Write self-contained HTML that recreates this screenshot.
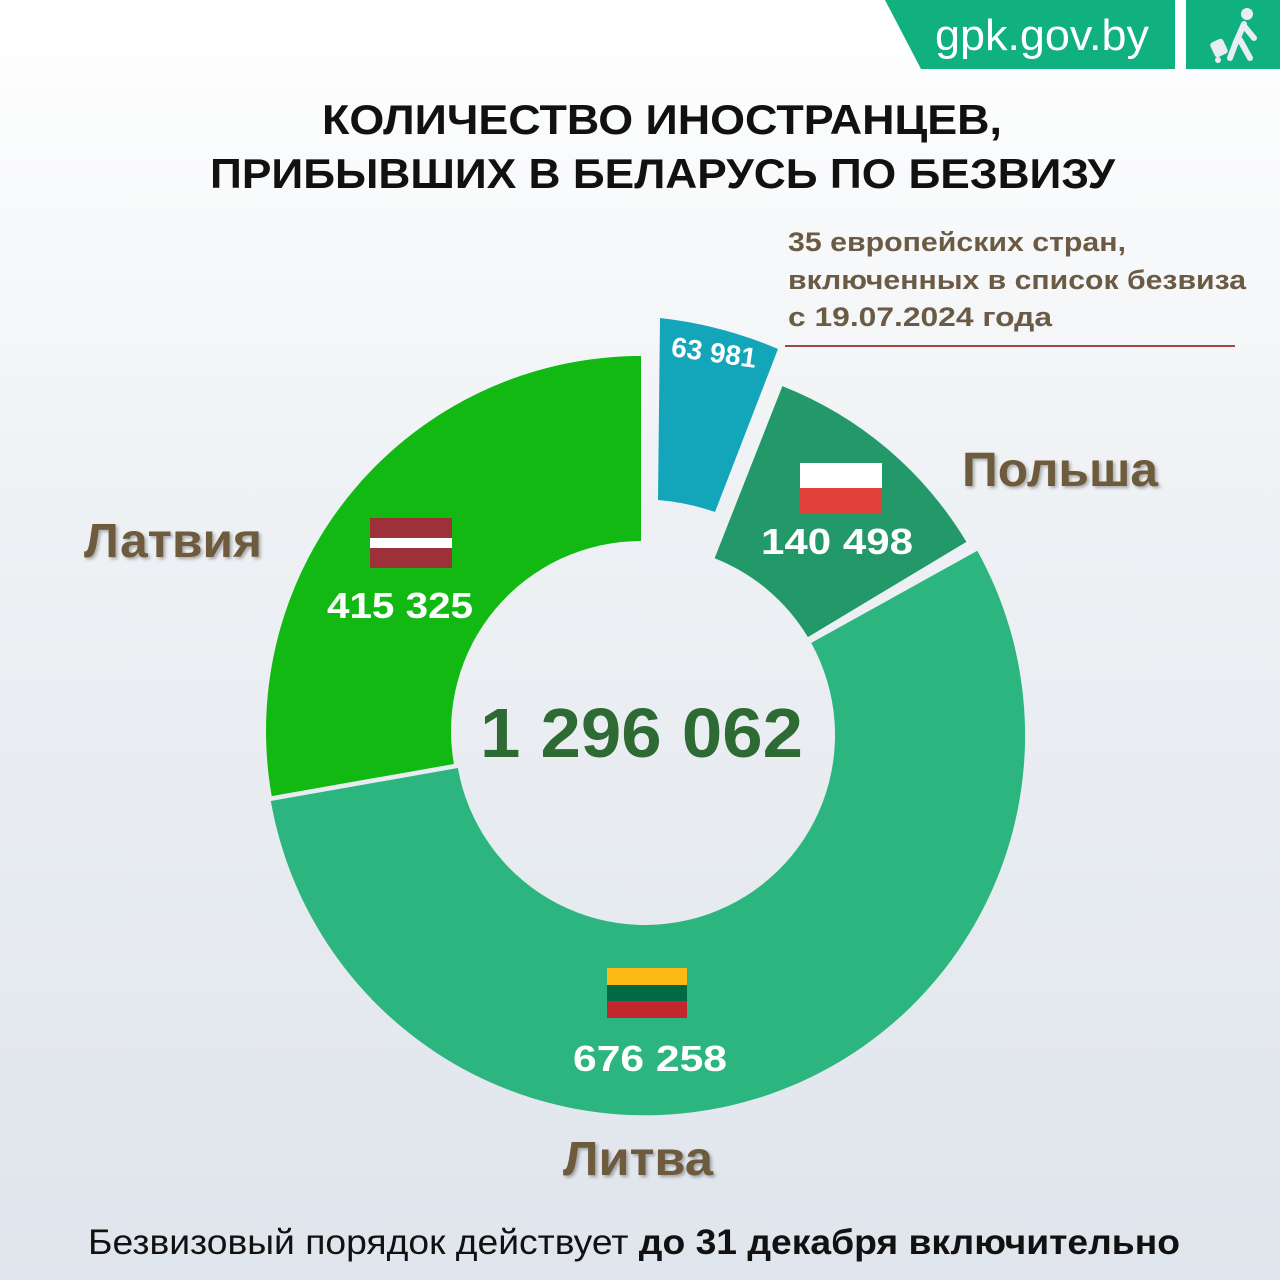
<!DOCTYPE html>
<html><head><meta charset="utf-8"><style>
body{margin:0;width:1280px;height:1280px;overflow:hidden;background:linear-gradient(#ffffff 0%,#eef1f4 40%,#dfe5ec 100%);font-family:"Liberation Sans","DejaVu Sans",sans-serif;}
svg{position:absolute;left:0;top:0}
</style></head><body>
<svg width="1280" height="1280" viewBox="0 0 1280 1280">
<defs><filter id="sh" x="-10%" y="-10%" width="120%" height="130%"><feDropShadow dx="2" dy="2" stdDeviation="1.5" flood-color="#000" flood-opacity="0.3"/></filter></defs>
<polygon points="885,0 1175,0 1175,69 921,69" fill="#10b07f"/>
<rect x="1186" y="0" width="94" height="69" fill="#10b07f"/>
<text x="935" y="50" font-size="44" fill="#fff" textLength="214" lengthAdjust="spacingAndGlyphs">gpk.gov.by</text>
<g fill="#e8eef3" stroke="#e8eef3" stroke-linecap="round">
<circle cx="1247" cy="14" r="6" stroke="none"/>
<path d="M1244,24 L1236,42 L1230,58 M1240,40 L1250,58 M1244,26 L1254,38" stroke-width="6" fill="none"/>
<rect x="1212" y="40" width="14" height="16" rx="3" stroke="none" transform="rotate(-25 1219 48)"/>
<circle cx="1218" cy="60" r="3" stroke="none"/>
</g>
<text x="322" y="134" font-size="42" font-weight="bold" fill="#111" textLength="680" lengthAdjust="spacingAndGlyphs">КОЛИЧЕСТВО ИНОСТРАНЦЕВ,</text>
<text x="210" y="188" font-size="42" font-weight="bold" fill="#111" textLength="905" lengthAdjust="spacingAndGlyphs">ПРИБЫВШИХ В БЕЛАРУСЬ ПО БЕЗВИЗУ</text>
<g font-size="27" font-weight="bold" fill="#6b5a44">
<text x="788" y="251" textLength="338" lengthAdjust="spacingAndGlyphs">35 европейских стран,</text>
<text x="788" y="289" textLength="458" lengthAdjust="spacingAndGlyphs">включенных в список безвиза</text>
<text x="788" y="326" textLength="264" lengthAdjust="spacingAndGlyphs">с 19.07.2024 года</text>
</g>
<line x1="785" y1="346" x2="1235" y2="346" stroke="#a04848" stroke-width="2"/>
<path d="M977.3,550.8 A380,380 0 1 1 270.8,801 L457.9,768 A190,190 0 1 0 811.2,642.9 Z" fill="#2db57f"/>
<path d="M641,356 L641,541 A190,190 0 0 0 453.9,764 L271.7,796.1 A375,375 0 0 1 641,356 Z" fill="#12b912"/>
<path d="M782.4,386.1 A375,375 0 0 1 966.4,541.9 L807.9,637.1 A190,190 0 0 0 714.6,558.2 Z" fill="#23996a"/>
<path d="M660,318 A417,417 0 0 1 778,349 L715,512 A235,235 0 0 0 658,500 Z" fill="#13a6bb"/>
<text x="714" y="362" font-size="28" font-weight="bold" fill="#fff" text-anchor="middle" transform="rotate(8 714 352)">63 981</text>
<text x="480" y="757" font-size="70" font-weight="bold" fill="#2e6a34" textLength="323" lengthAdjust="spacingAndGlyphs">1 296 062</text>
<rect x="370" y="518" width="82" height="50" fill="#9e3039"/><rect x="370" y="538" width="82" height="10" fill="#fff"/>
<text x="327" y="618" font-size="36" font-weight="bold" fill="#fff" textLength="146" lengthAdjust="spacingAndGlyphs">415 325</text>
<rect x="800" y="463" width="82" height="25" fill="#fff"/><rect x="800" y="488" width="82" height="25" fill="#e0403a"/>
<text x="761" y="554" font-size="36" font-weight="bold" fill="#fff" textLength="152" lengthAdjust="spacingAndGlyphs">140 498</text>
<rect x="607" y="968" width="80" height="17" fill="#fdb913"/><rect x="607" y="985" width="80" height="16" fill="#006a44"/><rect x="607" y="1001" width="80" height="17" fill="#c1272d"/>
<text x="573" y="1071" font-size="36" font-weight="bold" fill="#fff" textLength="154" lengthAdjust="spacingAndGlyphs">676 258</text>
<g font-size="48" font-weight="bold" fill="#6e5a3e" filter="url(#sh)">
<text x="84" y="557" textLength="178" lengthAdjust="spacingAndGlyphs">Латвия</text>
<text x="962" y="486" textLength="196" lengthAdjust="spacingAndGlyphs">Польша</text>
<text x="563" y="1175" textLength="150" lengthAdjust="spacingAndGlyphs">Литва</text>
</g>
<text x="88" y="1254" font-size="35" fill="#111" textLength="1092" lengthAdjust="spacingAndGlyphs">Безвизовый порядок действует <tspan font-weight="bold">до 31 декабря включительно</tspan></text>
</svg>
</body></html>
